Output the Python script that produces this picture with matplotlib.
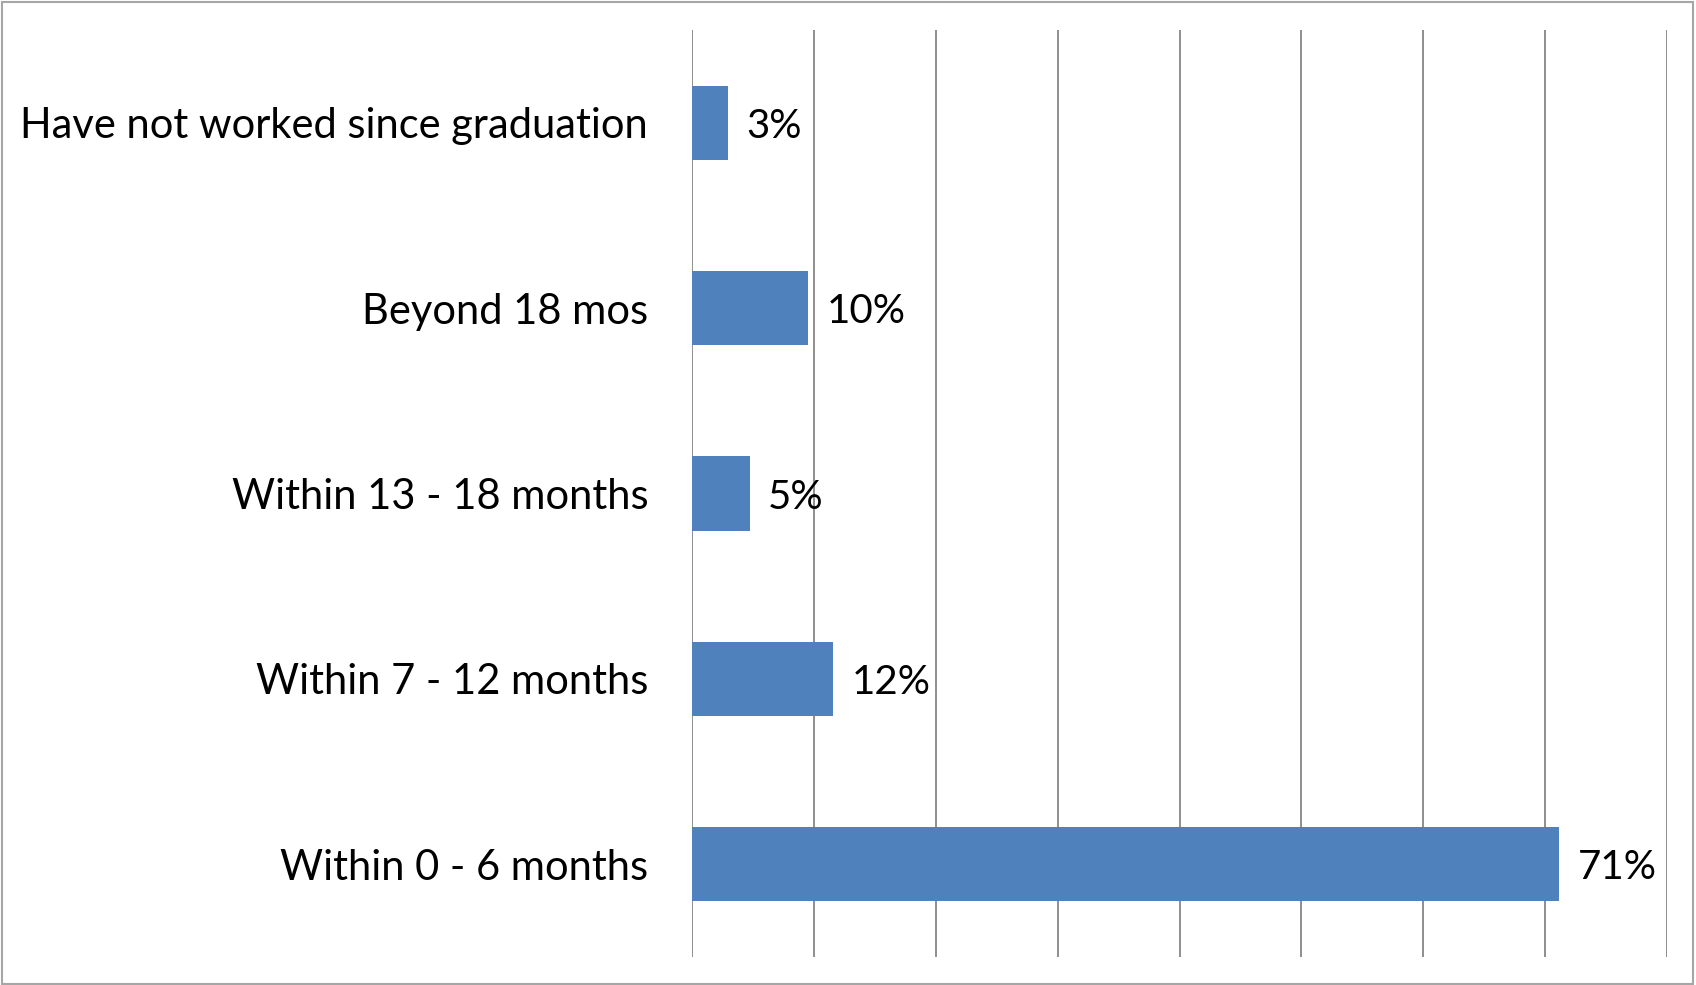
import matplotlib
matplotlib.use("Agg")
import matplotlib.pyplot as plt
from matplotlib.patches import Rectangle

# ── data (bottom to top, as drawn) ───────────────────────────────────────────
categories = ["Within 0 - 6 months", "Within 7 - 12 months", "Within 13 - 18 months",
              "Beyond 18 mos", "Have not worked since graduation"]
values = [71.17, 11.6, 4.73, 9.52, 2.98]
labels = ["71%", "12%", "5%", "10%", "3%"]
x_ticks = [0, 10, 20, 30, 40, 50, 60, 70, 80]

W, H = 1696, 985
plt.rcParams["font.family"] = ["Lato", "DejaVu Sans"]

fig = plt.figure(figsize=(W / 100, H / 100), dpi=100)
ax = fig.add_axes([692 / W, (H - 957) / H, (1667 - 692) / W, (957 - 30) / H])

y = range(len(categories))
ax.barh(y, values, height=0.4, color="#4F81BD", zorder=3)
for yi, v, lab in zip(y, values, labels):
    ax.text(v + 1.5, yi, lab, va="center_baseline", ha="left", fontsize=29, color="black")

ax.set_xlim(0, 80)
ax.set_ylim(-0.5, len(categories) - 0.5)
ax.set_xticks(x_ticks)
ax.set_xticklabels([])
ax.set_yticks(list(y))
ax.set_yticklabels(categories, fontsize=30)
ax.tick_params(length=0, pad=31.5)
ax.xaxis.grid(True, color="#868686", linewidth=1.3)
ax.set_axisbelow(True)
for s in ax.spines.values():
    s.set_visible(False)

fig.patches.append(Rectangle((0.001, 0.001), 0.997, 0.997, transform=fig.transFigure,
                             fill=False, edgecolor="#a6a6a6", linewidth=1.5))

fig.savefig("out.png", dpi=100)
